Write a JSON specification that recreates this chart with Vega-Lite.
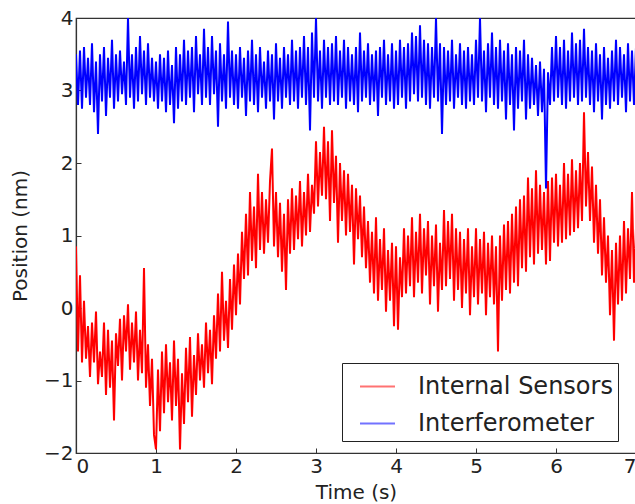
{
  "$schema": "https://vega.github.io/schema/vega-lite/v6.json",
  "autosize": "none",
  "width": 560,
  "height": 435,
  "padding": {"left": 76, "top": 18, "right": 0, "bottom": 51},
  "background": "white",
  "config": {
    "font": "DejaVu Sans",
    "view": {"stroke": "#333", "strokeWidth": 1.2},
    "axis": {"grid": false, "domainColor": "#333", "domainWidth": 1.2, "tickColor": "#333", "tickWidth": 1, "labelColor": "#222", "titleColor": "#222", "labelFontSize": 20, "titleFontSize": 20, "titleFontWeight": "normal", "labelFont": "DejaVu Sans", "titleFont": "DejaVu Sans"}
  },
  "datasets": {
    "signals": [
{"t":0.000,"r":0.85,"b":3.5},{"t":0.025,"r":-0.6,"b":2.8},{"t":0.050,"r":0.45,"b":3.55},{"t":0.075,"r":-0.75,"b":2.75},
{"t":0.100,"r":0.1,"b":3.6},{"t":0.125,"r":-0.7,"b":2.9},{"t":0.150,"r":-0.25,"b":3.45},{"t":0.175,"r":-0.95,"b":2.8},
{"t":0.200,"r":-0.2,"b":3.65},{"t":0.225,"r":-0.75,"b":2.7},{"t":0.250,"r":-0.05,"b":3.4},{"t":0.275,"r":-1.05,"b":2.4},
{"t":0.300,"r":-0.6,"b":3.5},{"t":0.325,"r":-0.95,"b":2.85},{"t":0.350,"r":-0.2,"b":3.6},{"t":0.375,"r":-1.2,"b":2.65},
{"t":0.400,"r":-0.3,"b":3.45},{"t":0.425,"r":-1.1,"b":2.9},{"t":0.450,"r":-0.45,"b":3.7},{"t":0.475,"r":-1.55,"b":2.75},
{"t":0.500,"r":-0.35,"b":3.5},{"t":0.525,"r":-0.8,"b":2.85},{"t":0.550,"r":-0.15,"b":3.55},{"t":0.575,"r":-1.0,"b":2.95},
{"t":0.600,"r":-0.1,"b":3.4},{"t":0.625,"r":-0.6,"b":2.8},{"t":0.650,"r":0.05,"b":4.0},{"t":0.675,"r":-0.85,"b":2.9},
{"t":0.700,"r":-0.2,"b":3.5},{"t":0.725,"r":-0.75,"b":2.75},{"t":0.750,"r":-0.05,"b":3.6},{"t":0.775,"r":-1.0,"b":2.85},
{"t":0.800,"r":-0.3,"b":3.75},{"t":0.825,"r":-0.9,"b":2.95},{"t":0.850,"r":0.55,"b":3.55},{"t":0.875,"r":-1.1,"b":2.8},
{"t":0.900,"r":-0.5,"b":3.65},{"t":0.925,"r":-1.35,"b":2.9},{"t":0.950,"r":-0.7,"b":3.45},{"t":0.975,"r":-1.75,"b":2.85},
{"t":1.000,"r":-1.95,"b":3.4},{"t":1.025,"r":-0.85,"b":2.75},{"t":1.050,"r":-1.7,"b":3.5},{"t":1.075,"r":-0.6,"b":2.85},
{"t":1.100,"r":-1.45,"b":3.45},{"t":1.125,"r":-0.5,"b":2.7},{"t":1.150,"r":-1.3,"b":3.55},{"t":1.175,"r":-0.75,"b":2.8},
{"t":1.200,"r":-1.55,"b":3.35},{"t":1.225,"r":-0.45,"b":2.55},{"t":1.250,"r":-1.35,"b":3.6},{"t":1.275,"r":-0.7,"b":2.75},
{"t":1.300,"r":-1.95,"b":3.5},{"t":1.325,"r":-0.9,"b":2.85},{"t":1.350,"r":-1.6,"b":3.7},{"t":1.375,"r":-0.55,"b":2.8},
{"t":1.400,"r":-1.3,"b":3.55},{"t":1.425,"r":-0.4,"b":2.9},{"t":1.450,"r":-1.5,"b":3.6},{"t":1.475,"r":-0.65,"b":2.7},
{"t":1.500,"r":-1.2,"b":3.75},{"t":1.525,"r":-0.35,"b":2.95},{"t":1.550,"r":-1.0,"b":3.5},{"t":1.575,"r":-0.5,"b":2.8},
{"t":1.600,"r":-1.1,"b":3.85},{"t":1.625,"r":-0.2,"b":2.9},{"t":1.650,"r":-0.9,"b":3.6},{"t":1.675,"r":-0.3,"b":2.8},
{"t":1.700,"r":-1.05,"b":3.75},{"t":1.725,"r":-0.1,"b":2.95},{"t":1.750,"r":-0.7,"b":3.55},{"t":1.775,"r":0.2,"b":2.5},
{"t":1.800,"r":-0.6,"b":3.65},{"t":1.825,"r":0.5,"b":2.85},{"t":1.850,"r":-0.45,"b":3.5},{"t":1.875,"r":0.1,"b":2.75},
{"t":1.900,"r":-0.55,"b":3.95},{"t":1.925,"r":0.4,"b":2.9},{"t":1.950,"r":-0.3,"b":3.55},{"t":1.975,"r":0.6,"b":2.8},
{"t":2.000,"r":-0.1,"b":3.5},{"t":2.025,"r":0.75,"b":2.75},{"t":2.050,"r":0.05,"b":3.6},{"t":2.075,"r":1.05,"b":2.9},
{"t":2.100,"r":0.4,"b":3.45},{"t":2.125,"r":1.3,"b":2.65},{"t":2.150,"r":0.45,"b":3.55},{"t":2.175,"r":1.6,"b":2.85},
{"t":2.200,"r":0.65,"b":3.7},{"t":2.225,"r":1.4,"b":2.8},{"t":2.250,"r":0.55,"b":3.5},{"t":2.275,"r":1.85,"b":2.7},
{"t":2.300,"r":0.8,"b":3.6},{"t":2.325,"r":1.6,"b":2.9},{"t":2.350,"r":0.75,"b":3.4},{"t":2.375,"r":1.5,"b":2.75},
{"t":2.400,"r":0.9,"b":3.55},{"t":2.425,"r":1.75,"b":2.85},{"t":2.450,"r":2.2,"b":3.5},{"t":2.475,"r":0.85,"b":2.6},
{"t":2.500,"r":1.6,"b":3.65},{"t":2.525,"r":0.7,"b":2.85},{"t":2.550,"r":1.45,"b":3.45},{"t":2.575,"r":0.5,"b":2.75},
{"t":2.600,"r":1.3,"b":3.6},{"t":2.625,"r":0.25,"b":2.9},{"t":2.650,"r":1.5,"b":3.5},{"t":2.675,"r":0.75,"b":2.8},
{"t":2.700,"r":1.65,"b":3.7},{"t":2.725,"r":0.8,"b":2.85},{"t":2.750,"r":1.55,"b":3.55},{"t":2.775,"r":0.95,"b":2.75},
{"t":2.800,"r":1.75,"b":3.6},{"t":2.825,"r":0.85,"b":2.9},{"t":2.850,"r":1.6,"b":3.75},{"t":2.875,"r":1.0,"b":2.8},
{"t":2.900,"r":1.85,"b":3.6},{"t":2.925,"r":1.05,"b":2.45},{"t":2.950,"r":1.7,"b":3.8},{"t":2.975,"r":1.3,"b":2.9},
{"t":3.000,"r":2.3,"b":4.0},{"t":3.025,"r":1.4,"b":2.85},{"t":3.050,"r":2.15,"b":3.55},{"t":3.075,"r":1.55,"b":2.75},
{"t":3.100,"r":2.5,"b":3.7},{"t":3.125,"r":1.5,"b":2.9},{"t":3.150,"r":2.3,"b":3.6},{"t":3.175,"r":1.2,"b":2.8},
{"t":3.200,"r":2.45,"b":3.65},{"t":3.225,"r":1.45,"b":2.85},{"t":3.250,"r":2.1,"b":3.75},{"t":3.275,"r":0.9,"b":2.8},
{"t":3.300,"r":2.0,"b":3.55},{"t":3.325,"r":1.2,"b":2.9},{"t":3.350,"r":1.9,"b":3.7},{"t":3.375,"r":1.0,"b":2.75},
{"t":3.400,"r":1.85,"b":3.6},{"t":3.425,"r":1.05,"b":2.85},{"t":3.450,"r":1.7,"b":3.5},{"t":3.475,"r":0.6,"b":2.8},
{"t":3.500,"r":1.65,"b":3.6},{"t":3.525,"r":0.95,"b":2.7},{"t":3.550,"r":1.55,"b":3.8},{"t":3.575,"r":0.7,"b":2.85},
{"t":3.600,"r":1.4,"b":3.55},{"t":3.625,"r":0.55,"b":2.9},{"t":3.650,"r":1.2,"b":3.65},{"t":3.675,"r":0.35,"b":2.8},
{"t":3.700,"r":1.05,"b":3.5},{"t":3.725,"r":0.2,"b":2.85},{"t":3.750,"r":1.25,"b":3.55},{"t":3.775,"r":0.1,"b":2.65},
{"t":3.800,"r":0.95,"b":3.6},{"t":3.825,"r":0.25,"b":2.9},{"t":3.850,"r":1.1,"b":3.7},{"t":3.875,"r":-0.05,"b":2.8},
{"t":3.900,"r":0.8,"b":3.5},{"t":3.925,"r":0.1,"b":2.85},{"t":3.950,"r":0.9,"b":3.65},{"t":3.975,"r":-0.25,"b":2.75},
{"t":4.000,"r":0.85,"b":3.55},{"t":4.025,"r":-0.3,"b":2.8},{"t":4.050,"r":0.7,"b":3.7},{"t":4.075,"r":0.15,"b":2.9},
{"t":4.100,"r":1.1,"b":3.6},{"t":4.125,"r":0.2,"b":2.75},{"t":4.150,"r":1.0,"b":3.65},{"t":4.175,"r":0.3,"b":2.85},
{"t":4.200,"r":1.25,"b":3.8},{"t":4.225,"r":0.15,"b":2.95},{"t":4.250,"r":1.05,"b":3.75},{"t":4.275,"r":0.35,"b":2.85},
{"t":4.300,"r":1.3,"b":3.9},{"t":4.325,"r":0.2,"b":2.9},{"t":4.350,"r":1.1,"b":3.7},{"t":4.375,"r":0.45,"b":2.8},
{"t":4.400,"r":1.2,"b":3.65},{"t":4.425,"r":0.05,"b":2.75},{"t":4.450,"r":1.0,"b":3.6},{"t":4.475,"r":0.3,"b":2.9},
{"t":4.500,"r":1.15,"b":4.0},{"t":4.525,"r":-0.05,"b":2.85},{"t":4.550,"r":0.9,"b":3.65},{"t":4.575,"r":0.25,"b":2.4},
{"t":4.600,"r":1.35,"b":3.6},{"t":4.625,"r":0.3,"b":2.8},{"t":4.650,"r":1.2,"b":3.55},{"t":4.675,"r":0.4,"b":2.85},
{"t":4.700,"r":1.3,"b":3.7},{"t":4.725,"r":0.1,"b":2.75},{"t":4.750,"r":1.1,"b":3.5},{"t":4.775,"r":0.25,"b":2.9},
{"t":4.800,"r":1.05,"b":3.65},{"t":4.825,"r":0.0,"b":2.8},{"t":4.850,"r":0.95,"b":3.55},{"t":4.875,"r":0.2,"b":2.75},
{"t":4.900,"r":1.1,"b":3.6},{"t":4.925,"r":-0.1,"b":2.85},{"t":4.950,"r":0.85,"b":3.5},{"t":4.975,"r":0.15,"b":2.8},
{"t":5.000,"r":1.1,"b":3.7},{"t":5.025,"r":0.05,"b":2.9},{"t":5.050,"r":0.95,"b":4.0},{"t":5.075,"r":0.2,"b":2.85},
{"t":5.100,"r":1.05,"b":3.55},{"t":5.125,"r":-0.1,"b":2.7},{"t":5.150,"r":0.9,"b":3.65},{"t":5.175,"r":0.15,"b":2.9},
{"t":5.200,"r":1.0,"b":3.8},{"t":5.225,"r":0.05,"b":2.8},{"t":5.250,"r":0.85,"b":3.6},{"t":5.275,"r":-0.6,"b":2.75},
{"t":5.300,"r":1.0,"b":3.7},{"t":5.325,"r":0.1,"b":2.85},{"t":5.350,"r":1.15,"b":3.55},{"t":5.375,"r":0.25,"b":2.6},
{"t":5.400,"r":1.2,"b":3.65},{"t":5.425,"r":0.2,"b":2.8},{"t":5.450,"r":1.3,"b":3.5},{"t":5.475,"r":0.35,"b":2.45},
{"t":5.500,"r":1.4,"b":3.6},{"t":5.525,"r":0.3,"b":2.75},{"t":5.550,"r":1.5,"b":3.55},{"t":5.575,"r":0.55,"b":2.85},
{"t":5.600,"r":1.55,"b":3.7},{"t":5.625,"r":0.5,"b":2.6},{"t":5.650,"r":1.8,"b":3.5},{"t":5.675,"r":0.7,"b":2.75},
{"t":5.700,"r":1.65,"b":3.45},{"t":5.725,"r":0.6,"b":2.8},{"t":5.750,"r":1.9,"b":3.35},{"t":5.775,"r":0.75,"b":2.65},
{"t":5.800,"r":1.7,"b":3.4},{"t":5.825,"r":0.8,"b":2.7},{"t":5.850,"r":1.6,"b":3.3},{"t":5.875,"r":0.6,"b":1.65},
{"t":5.900,"r":1.75,"b":3.25},{"t":5.925,"r":0.65,"b":2.8},{"t":5.950,"r":1.8,"b":3.6},{"t":5.975,"r":0.9,"b":2.85},
{"t":6.000,"r":1.85,"b":3.75},{"t":6.025,"r":0.85,"b":2.9},{"t":6.050,"r":1.7,"b":3.6},{"t":6.075,"r":0.9,"b":2.8},
{"t":6.100,"r":2.0,"b":3.7},{"t":6.125,"r":0.95,"b":2.75},{"t":6.150,"r":1.85,"b":3.55},{"t":6.175,"r":1.0,"b":2.85},
{"t":6.200,"r":2.05,"b":3.8},{"t":6.225,"r":1.05,"b":2.9},{"t":6.250,"r":1.9,"b":3.65},{"t":6.275,"r":1.1,"b":2.8},
{"t":6.300,"r":2.0,"b":3.7},{"t":6.325,"r":1.2,"b":2.85},{"t":6.350,"r":2.7,"b":3.85},{"t":6.375,"r":1.4,"b":2.9},
{"t":6.400,"r":2.15,"b":3.6},{"t":6.425,"r":1.2,"b":2.8},{"t":6.450,"r":1.95,"b":3.55},{"t":6.475,"r":0.9,"b":2.7},
{"t":6.500,"r":1.7,"b":3.65},{"t":6.525,"r":0.75,"b":2.85},{"t":6.550,"r":1.5,"b":3.5},{"t":6.575,"r":0.45,"b":2.6},
{"t":6.600,"r":1.25,"b":3.6},{"t":6.625,"r":0.35,"b":2.8},{"t":6.650,"r":1.0,"b":3.45},{"t":6.675,"r":-0.1,"b":2.75},
{"t":6.700,"r":0.8,"b":3.55},{"t":6.725,"r":-0.45,"b":2.85},{"t":6.750,"r":0.9,"b":3.7},{"t":6.775,"r":0.05,"b":2.8},
{"t":6.800,"r":1.0,"b":3.6},{"t":6.825,"r":0.1,"b":2.9},{"t":6.850,"r":1.2,"b":3.5},{"t":6.875,"r":0.2,"b":2.7},
{"t":6.900,"r":1.1,"b":3.65},{"t":6.925,"r":0.4,"b":2.85},{"t":6.950,"r":1.6,"b":3.55},{"t":6.975,"r":0.35,"b":2.8},
{"t":7.000,"r":1.1,"b":3.6}
    ]
  },
  "data": {"name": "signals"},
  "transform": [{"fold": ["r", "b"], "as": ["s", "v"]}],
  "mark": {"type": "line", "strokeWidth": 2, "opacity": 1, "clip": true},
  "encoding": {
    "x": {"field": "t", "type": "quantitative", "title": "Time (s)",
      "scale": {"domain": [0, 7], "nice": false, "zero": false},
      "axis": {"values": [0,1,2,3,4,5,6,7], "format": "d", "tickSize": -5, "labelPadding": 8, "titlePadding": 6}},
    "y": {"field": "v", "type": "quantitative", "title": "Position (nm)",
      "scale": {"domain": [-2, 4], "nice": false, "zero": false},
      "axis": {"values": [-2,-1,0,1,2,3,4], "format": "d", "tickSize": -5, "labelPadding": 8, "titlePadding": 13}},
    "color": {"field": "s", "type": "nominal",
      "scale": {"domain": ["r", "b"], "range": ["#ff0000", "#0000ff"]},
      "legend": {"title": null, "orient": "none", "legendX": 266, "legendY": 345,
        "labelExpr": "datum.label == 'r' ? 'Internal Sensors' : 'Interferometer'",
        "symbolType": "stroke", "symbolSize": 1225, "symbolStrokeWidth": 2, "symbolOpacity": 0.55,
        "symbolOffset": 12, "labelOffset": 22, "labelFontSize": 24, "labelColor": "#222", "labelFont": "DejaVu Sans",
        "rowPadding": 6, "padding": 5, "strokeColor": "#222", "fillColor": "white", "labelLimit": 400}},
    "order": {"field": "t", "type": "quantitative"}
  }
}
